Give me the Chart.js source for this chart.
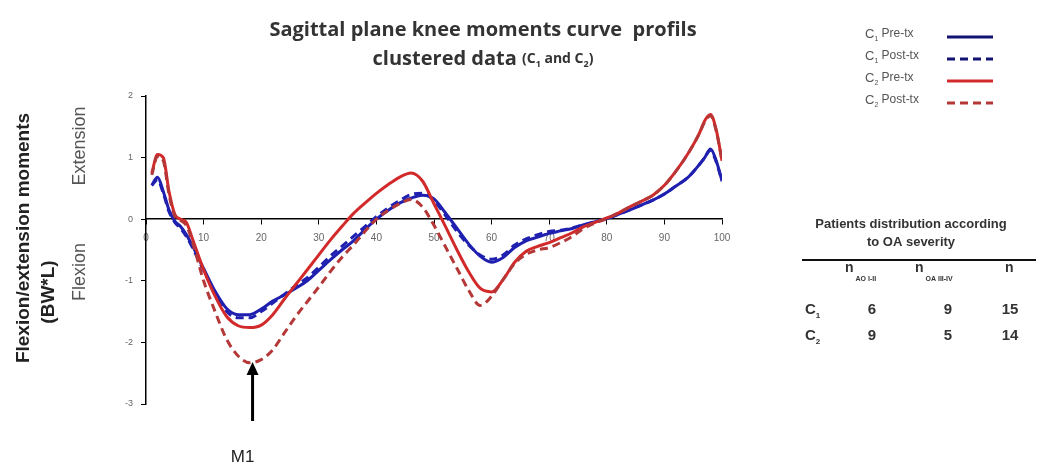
<!DOCTYPE html>
<html>
<head>
<meta charset="utf-8">
<script src="https://cdn.jsdelivr.net/npm/chart.js@4.4.1/dist/chart.umd.min.js"></script>
<style>
  html, body { margin: 0; padding: 0; background: #fff; }
  canvas { display: block; }
</style>
</head>
<body>
<canvas id="myChart" width="1038" height="468"></canvas>
<script>
// % of gait cycle
const xs = [1, 2, 3, 4, 5, 6, 7, 8, 10, 12, 14, 16, 18, 20, 22, 24, 26, 28, 30, 32, 34, 36, 38, 40, 42, 44, 46, 48, 50,
  52, 54, 56, 58, 60, 62, 64, 66, 68, 70, 72, 74, 76, 78, 80, 82, 84, 86, 88, 90, 92, 94, 96, 97, 98, 99, 100];

// knee moments (BW*L)
const c1Pre = [0.55, 0.68, 0.45, 0.15, -0.03, -0.12, -0.25, -0.42, -0.8, -1.17, -1.45, -1.55, -1.55, -1.46, -1.33, -1.23,
  -1.12, -1.0, -0.83, -0.66, -0.5, -0.35, -0.17, 0.0, 0.14, 0.26, 0.34, 0.39, 0.33, 0.1, -0.15, -0.4, -0.6, -0.7, -0.62,
  -0.46, -0.35, -0.29, -0.23, -0.19, -0.15, -0.09, -0.04, 0.01, 0.08, 0.15, 0.23, 0.31, 0.41, 0.54, 0.67, 0.88, 1.0, 1.14,
  0.95, 0.62];
const c1Post = [0.55, 0.64, 0.42, 0.12, -0.05, -0.15, -0.28, -0.45, -0.83, -1.2, -1.5, -1.6, -1.6, -1.5, -1.36, -1.22,
  -1.08, -0.95, -0.78, -0.6, -0.44, -0.28, -0.12, 0.04, 0.18, 0.3, 0.4, 0.42, 0.3, 0.06, -0.2, -0.42, -0.58, -0.65, -0.58,
  -0.42, -0.32, -0.25, -0.2, -0.18, -0.14, -0.09, -0.04, 0.01, 0.08, 0.15, 0.23, 0.31, 0.41, 0.54, 0.67, 0.88, 1.0, 1.12,
  0.93, 0.62];
const c2Pre = [0.75, 1.05, 1.0, 0.45, 0.08, 0.0, -0.05, -0.3, -0.82, -1.25, -1.58, -1.73, -1.76, -1.72, -1.55, -1.3, -1.06,
  -0.82, -0.58, -0.34, -0.12, 0.09, 0.26, 0.42, 0.56, 0.68, 0.75, 0.62, 0.25, -0.12, -0.5, -0.85, -1.12, -1.18, -0.98, -0.7,
  -0.52, -0.44, -0.38, -0.3, -0.22, -0.12, -0.05, 0.02, 0.1, 0.2, 0.29, 0.39, 0.55, 0.78, 1.05, 1.38, 1.6, 1.7, 1.45, 0.95];
const c2Post = [0.72, 1.02, 0.95, 0.4, 0.05, -0.02, -0.1, -0.35, -1.0, -1.5, -1.95, -2.22, -2.33, -2.28, -2.12, -1.85, -1.58,
  -1.34, -1.1, -0.85, -0.62, -0.42, -0.2, 0.0, 0.14, 0.25, 0.32, 0.2, -0.1, -0.45, -0.8, -1.15, -1.4, -1.25, -0.98, -0.72,
  -0.57, -0.5, -0.46, -0.38, -0.28, -0.15, -0.06, 0.01, 0.1, 0.2, 0.29, 0.39, 0.55, 0.78, 1.05, 1.38, 1.58, 1.68, 1.43, 0.95];

const seriesNames = [["1", " Pre-tx"], ["1", " Post-tx"], ["2", " Pre-tx"], ["2", " Post-tx"]];
const tableHead = [["n", "AO I-II"], ["n", "OA III-IV"], ["n", ""]];
const tableRows = [["1", "6", "9", "15"], ["2", "9", "5", "14"]];

const BLUE = "#2020b0";
const RED = "#d22a2a";
const RED_D = "#b53838";
const SANS = '"Liberation Sans", Arial, sans-serif';
const OPEN = '"Open Sans", sans-serif';

const pts = (ys) => xs.map((x, i) => ({ x, y: ys[i] }));

// draws a run of text pieces, each with own font and vertical shift
function drawRich(ctx, parts, x, y, align) {
  ctx.save();
  ctx.textAlign = "left";
  let w = 0;
  parts.forEach((p) => { ctx.font = p.font; w += ctx.measureText(p.t).width; });
  let cx = align === "center" ? x - w / 2 : align === "right" ? x - w : x;
  parts.forEach((p) => {
    ctx.font = p.font;
    ctx.fillText(p.t, cx, y + (p.dy || 0));
    cx += ctx.measureText(p.t).width;
  });
  ctx.restore();
}

function vtext(ctx, t, x, y, font) {
  ctx.save();
  ctx.translate(x, y);
  ctx.rotate(-Math.PI / 2);
  ctx.textAlign = "center";
  ctx.font = font;
  ctx.fillText(t, 0, 0);
  ctx.restore();
}

const extras = {
  id: "extras",
  afterDraw(chart) {
    const ctx = chart.ctx;
    ctx.save();
    ctx.textBaseline = "middle";

    // title
    ctx.fillStyle = "#333";
    drawRich(ctx, [{ t: "Sagittal plane knee moments curve  profils", font: "bold 20px " + OPEN }], 483, 30, "center");
    const big = "bold 20px " + OPEN, sm = "bold 14px " + OPEN, sub = "bold 9px " + OPEN;
    drawRich(ctx, [
      { t: "clustered data ", font: big }, { t: "(C", font: sm }, { t: "1", font: sub, dy: 5 },
      { t: " and C", font: sm }, { t: "2", font: sub, dy: 5 }, { t: ")", font: sm }
    ], 483, 59, "center");

    // y axis titles
    ctx.fillStyle = "#222";
    vtext(ctx, "Flexion/extension moments", 24, 238, "bold 19px " + SANS);
    vtext(ctx, "(BW*L)", 49, 292, "bold 19px " + SANS);
    ctx.fillStyle = "#555";
    vtext(ctx, "Extension", 80, 146, "18px " + SANS);
    vtext(ctx, "Flexion", 80, 272, "18px " + SANS);

    // legend
    const legendStyles = [["#121275", []], ["#121275", [8, 5]], [RED, []], [RED_D, [8, 5]]];
    seriesNames.forEach((n, i) => {
      const y = 34 + i * 22;
      ctx.fillStyle = "#555";
      drawRich(ctx, [
        { t: "C", font: "13px " + SANS }, { t: n[0], font: "7px " + SANS, dy: 5 }, { t: n[1], font: "12px " + SANS }
      ], 865, y, "left");
      ctx.strokeStyle = legendStyles[i][0];
      ctx.lineWidth = 3;
      ctx.setLineDash(legendStyles[i][1]);
      ctx.beginPath();
      ctx.moveTo(947, y + 3);
      ctx.lineTo(993, y + 3);
      ctx.stroke();
    });
    ctx.setLineDash([]);

    // table
    ctx.fillStyle = "#333";
    ctx.font = "bold 13px " + SANS;
    ctx.textAlign = "center";
    ctx.fillText("Patients distribution according", 911, 224);
    ctx.fillText("to OA severity", 911, 242);
    ctx.strokeStyle = "#111";
    ctx.lineWidth = 2;
    ctx.beginPath();
    ctx.moveTo(802, 260);
    ctx.lineTo(1036, 260);
    ctx.stroke();
    const headX = [845, 915, 1005];
    tableHead.forEach((h, i) => {
      drawRich(ctx, [{ t: h[0], font: "bold 14px " + SANS }, { t: " " + h[1], font: "bold 7px " + SANS, dy: 11 }],
        headX[i], 268, "left");
    });
    const colX = [872, 948, 1010];
    tableRows.forEach((r, j) => {
      const y = 310 + j * 26;
      drawRich(ctx, [{ t: "C", font: "bold 15px " + SANS }, { t: r[0], font: "bold 8px " + SANS, dy: 6 }], 805, y, "left");
      ctx.textAlign = "center";
      ctx.font = "bold 15px " + SANS;
      r.slice(1).forEach((v, k) => ctx.fillText(v, colX[k], y));
    });

    // M1 arrow under the first flexion peak
    const ax = chart.scales.x.getPixelForValue(18.5);
    ctx.strokeStyle = "#000";
    ctx.fillStyle = "#000";
    ctx.lineWidth = 3;
    ctx.beginPath();
    ctx.moveTo(ax, 421);
    ctx.lineTo(ax, 372);
    ctx.stroke();
    ctx.beginPath();
    ctx.moveTo(ax - 6, 375);
    ctx.lineTo(ax, 362);
    ctx.lineTo(ax + 6, 375);
    ctx.closePath();
    ctx.fill();
    ctx.fillStyle = "#222";
    ctx.font = "17px " + SANS;
    ctx.textAlign = "center";
    ctx.fillText("M1", ax - 10, 457);

    ctx.restore();
  },
};

new Chart(document.getElementById("myChart").getContext("2d"), {
  type: "line",
  data: {
    datasets: [
      { label: "C2 Post-tx", data: pts(c2Post), borderColor: RED_D, borderDash: [8, 5] },
      { label: "C2 Pre-tx", data: pts(c2Pre), borderColor: RED },
      { label: "C1 Post-tx", data: pts(c1Post), borderColor: BLUE, borderDash: [8, 5] },
      { label: "C1 Pre-tx", data: pts(c1Pre), borderColor: BLUE },
    ],
  },
  options: {
    responsive: false,
    animation: false,
    layout: { padding: { left: 106, right: 316, top: 96, bottom: 64 } },
    elements: {
      line: { borderWidth: 3, tension: 0.4, cubicInterpolationMode: "monotone" },
      point: { radius: 0 },
    },
    plugins: { legend: { display: false }, title: { display: false }, tooltip: { enabled: false } },
    scales: {
      x: {
        type: "linear",
        position: { y: 0 },
        min: 0,
        max: 100,
        ticks: { stepSize: 10, color: "#666", font: { size: 10, family: SANS }, padding: 8, maxRotation: 0 },
        grid: { drawOnChartArea: false, tickLength: 5, color: "#000" },
        border: { color: "#000", width: 1.5 },
      },
      y: {
        min: -3,
        max: 2,
        ticks: { stepSize: 1, color: "#666", font: { size: 9, family: SANS }, padding: 8 },
        grid: { drawOnChartArea: false, tickLength: 5, color: "#000" },
        border: { color: "#000", width: 1.5 },
        afterFit: (s) => { s.width = 40; },
      },
    },
  },
  plugins: [extras],
});
</script>
</body>
</html>
